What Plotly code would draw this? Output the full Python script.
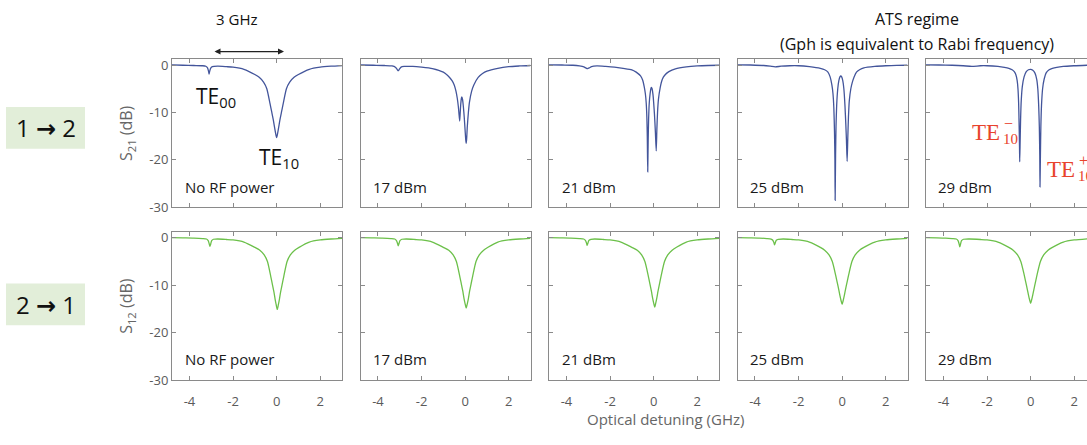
import plotly.graph_objects as go
from plotly.subplots import make_subplots

W, H = 1087, 445

# ---------------- data ----------------
power_labels = ["No RF power", "17 dBm", "21 dBm", "25 dBm", "29 dBm"]
x_tick_vals = [-4, -2, 0, 2]
x_tick_text = ["-4", "-2", "0", "2"]
y_tick_vals = [0, -10, -20, -30]
y_tick_text = ["0", "-10", "-20", "-30"]

# S21 (1 -> 2)
s21_norf_x = [-4.8, -4.3, -3.8, -3.4, -3.25, -3.17, -3.12, -3.1, -3.08, -3.03, -2.95, -2.7, -2.3, -2.0, -1.5, -1.0,
              -0.8, -0.6, -0.45, -0.3, -0.22, -0.15, -0.1, -0.05, 0.0, 0.05, 0.1, 0.15, 0.22, 0.3, 0.45, 0.6, 0.8,
              1.0, 1.5, 2.0, 2.5, 3.0]
s21_norf_y = [0.05, -0.05, -0.1, -0.15, -0.25, -0.6, -1.4, -1.9, -1.5, -0.7, -0.35, -0.25, -0.35, -0.45, -0.9, -2.0,
              -2.6, -3.6, -5.0, -8.2, -10.0, -11.6, -13.0, -14.3, -15.3, -14.3, -13.0, -11.6, -10.0, -8.2, -5.0, -3.6,
              -2.6, -2.0, -0.9, -0.45, -0.25, -0.12]

s21_17_x = [-4.8, -4.2, -3.7, -3.35, -3.2, -3.12, -3.07, -3.02, -2.94, -2.8, -2.4, -2.0, -1.5, -1.0, -0.8, -0.6,
            -0.5, -0.42, -0.36, -0.31, -0.28, -0.25, -0.23, -0.2, -0.17, -0.15, -0.12, -0.08, -0.04, 0.0, 0.03, 0.05,
            0.07, 0.1, 0.15, 0.2, 0.3, 0.4, 0.6, 0.8, 1.0, 1.5, 2.0, 2.5, 3.0]
s21_17_y = [0.0, -0.05, -0.1, -0.2, -0.45, -0.9, -1.2, -0.9, -0.45, -0.3, -0.3, -0.45, -0.75, -1.5, -2.2, -3.3,
            -4.2, -5.5, -7.0, -8.8, -10.3, -11.8, -10.5, -8.2, -7.0, -6.7, -7.2, -8.8, -11.0, -13.8, -15.8, -16.5,
            -15.6, -13.0, -10.0, -7.8, -5.5, -4.2, -2.6, -1.8, -1.3, -0.7, -0.35, -0.2, -0.1]

s21_21_x = [-4.8, -4.2, -3.7, -3.4, -3.2, -3.1, -3.03, -2.95, -2.85, -2.6, -2.2, -1.8, -1.4, -1.0, -0.8, -0.6, -0.5,
            -0.43, -0.38, -0.34, -0.31, -0.29, -0.27, -0.25, -0.23, -0.2, -0.16, -0.12, -0.1, -0.07, -0.03, 0.0, 0.04,
            0.08, 0.12, 0.15, 0.18, 0.22, 0.3, 0.4, 0.5, 0.7, 1.0, 1.5, 2.0, 2.5, 3.0]
s21_21_y = [0.05, 0.0, -0.05, -0.2, -0.4, -0.65, -0.75, -0.6, -0.35, -0.2, -0.3, -0.45, -0.7, -1.0, -1.5, -2.3, -3.2,
            -4.6, -6.0, -8.0, -11.0, -15.0, -22.5, -16.0, -11.5, -8.0, -6.0, -4.9, -4.7, -5.0, -6.2, -7.8, -10.5,
            -14.0, -18.1, -13.5, -10.0, -7.3, -4.8, -3.0, -2.2, -1.4, -0.8, -0.4, -0.2, -0.1, -0.05]

s21_25_x = [-4.8, -4.2, -3.6, -3.3, -3.07, -2.8, -2.4, -2.0, -1.5, -1.0, -0.8, -0.65, -0.55, -0.47, -0.42, -0.38,
            -0.35, -0.33, -0.32, -0.3, -0.28, -0.25, -0.2, -0.15, -0.1, -0.06, -0.02, 0.03, 0.08, 0.13, 0.17, 0.2,
            0.23, 0.26, 0.29, 0.33, 0.4, 0.47, 0.55, 0.66, 0.8, 1.0, 1.5, 2.0, 2.5, 3.0]
s21_25_y = [0.05, 0.0, -0.1, -0.25, -0.4, -0.25, -0.15, -0.15, -0.35, -0.7, -1.0, -1.5, -2.5, -4.2, -6.0, -9.0,
            -14.0, -20.0, -28.5, -19.0, -13.0, -8.5, -5.0, -3.3, -2.5, -2.3, -2.5, -3.3, -5.0, -8.5, -12.5, -16.0,
            -20.3, -15.5, -11.0, -7.5, -5.0, -3.6, -2.5, -1.5, -1.0, -0.6, -0.3, -0.15, -0.08, -0.05]

s21_29_x = [-4.8, -4.2, -3.6, -3.1, -2.7, -2.3, -2.0, -1.5, -1.2, -1.0, -0.85, -0.75, -0.68, -0.62, -0.58, -0.55,
            -0.53, -0.51, -0.5, -0.48, -0.46, -0.43, -0.38, -0.3, -0.2, -0.1, 0.0, 0.1, 0.2, 0.28, 0.33, 0.37, 0.4,
            0.42, 0.43, 0.45, 0.47, 0.5, 0.55, 0.62, 0.72, 0.85, 1.0, 1.5, 2.0, 2.6]
s21_29_y = [0.05, 0.0, -0.05, -0.15, -0.3, -0.15, -0.15, -0.3, -0.5, -0.7, -1.0, -1.4, -2.0, -3.2, -5.0, -8.0,
            -12.0, -17.0, -20.4, -16.0, -11.5, -7.5, -4.5, -2.5, -1.4, -1.0, -0.9, -1.1, -1.7, -3.0, -5.0, -8.5,
            -13.0, -19.0, -25.7, -19.0, -13.0, -8.5, -5.0, -3.0, -1.6, -1.0, -0.7, -0.3, -0.15, -0.05]

# S12 (2 -> 1)
s12_norf_x = [-4.8, -4.3, -3.8, -3.4, -3.22, -3.14, -3.09, -3.06, -3.03, -2.98, -2.9, -2.7, -2.3, -2.0, -1.5, -1.0,
              -0.77, -0.57, -0.42, -0.27, -0.19, -0.12, -0.07, -0.02, 0.03, 0.08, 0.13, 0.18, 0.25, 0.33, 0.48, 0.63,
              0.83, 1.03, 1.5, 2.0, 2.5, 3.0]
s12_norf_y = [0.05, 0.0, -0.05, -0.15, -0.25, -0.6, -1.3, -1.8, -1.4, -0.6, -0.3, -0.25, -0.35, -0.45, -0.9, -2.0,
              -2.6, -3.6, -5.0, -8.1, -9.9, -11.5, -12.9, -14.1, -15.1, -14.1, -12.9, -11.5, -9.9, -8.1, -5.0, -3.6,
              -2.6, -2.0, -0.9, -0.45, -0.25, -0.12]

s12_17_x = [-4.8, -4.3, -3.8, -3.4, -3.23, -3.15, -3.1, -3.07, -3.04, -2.99, -2.9, -2.7, -2.3, -2.0, -1.5, -1.0,
            -0.75, -0.55, -0.4, -0.25, -0.17, -0.1, -0.05, 0.0, 0.05, 0.1, 0.15, 0.2, 0.27, 0.35, 0.5, 0.65, 0.85,
            1.05, 1.5, 2.0, 2.5, 3.0]
s12_17_y = [0.05, 0.0, -0.05, -0.15, -0.25, -0.6, -1.2, -1.7, -1.3, -0.6, -0.3, -0.25, -0.35, -0.45, -0.9, -2.0,
            -2.6, -3.6, -5.0, -8.0, -9.8, -11.4, -12.8, -13.9, -14.8, -13.9, -12.8, -11.4, -9.8, -8.0, -5.0, -3.6,
            -2.6, -2.0, -0.9, -0.45, -0.25, -0.12]

s12_21_x = [-4.8, -4.3, -3.8, -3.4, -3.21, -3.13, -3.08, -3.05, -3.02, -2.97, -2.88, -2.7, -2.3, -2.0, -1.5, -1.0,
            -0.75, -0.55, -0.4, -0.25, -0.17, -0.1, -0.05, 0.0, 0.05, 0.1, 0.15, 0.2, 0.27, 0.35, 0.5, 0.65, 0.85,
            1.05, 1.5, 2.0, 2.5, 3.0]
s12_21_y = [0.05, 0.0, -0.05, -0.15, -0.25, -0.55, -1.1, -1.6, -1.2, -0.55, -0.3, -0.25, -0.35, -0.45, -0.9, -2.0,
            -2.6, -3.6, -5.0, -7.9, -9.7, -11.3, -12.6, -13.7, -14.6, -13.7, -12.6, -11.3, -9.7, -7.9, -5.0, -3.6,
            -2.6, -2.0, -0.9, -0.45, -0.25, -0.12]

s12_25_x = [-4.8, -4.3, -3.8, -3.45, -3.26, -3.18, -3.13, -3.1, -3.07, -3.02, -2.93, -2.7, -2.3, -2.0, -1.5, -1.0,
            -0.8, -0.6, -0.45, -0.3, -0.22, -0.15, -0.1, -0.05, 0.0, 0.05, 0.1, 0.15, 0.22, 0.3, 0.45, 0.6, 0.8, 1.0,
            1.5, 2.0, 2.5, 3.0]
s12_25_y = [0.05, 0.0, -0.05, -0.15, -0.25, -0.5, -1.0, -1.5, -1.1, -0.5, -0.3, -0.25, -0.35, -0.45, -0.9, -2.0,
            -2.6, -3.6, -5.0, -7.8, -9.5, -11.0, -12.2, -13.2, -14.0, -13.2, -12.2, -11.0, -9.5, -7.8, -5.0, -3.6,
            -2.6, -2.0, -0.9, -0.45, -0.25, -0.12]

s12_29_x = [-4.8, -4.3, -3.9, -3.6, -3.41, -3.33, -3.28, -3.25, -3.22, -3.17, -3.08, -2.8, -2.3, -2.0, -1.5, -1.0,
            -0.8, -0.6, -0.45, -0.3, -0.22, -0.15, -0.1, -0.05, 0.0, 0.05, 0.1, 0.15, 0.22, 0.3, 0.45, 0.6, 0.8, 1.0,
            1.5, 2.0, 2.6]
s12_29_y = [0.05, 0.0, -0.05, -0.15, -0.25, -0.6, -1.3, -1.9, -1.4, -0.6, -0.3, -0.25, -0.35, -0.45, -0.9, -2.0,
            -2.6, -3.6, -5.0, -7.7, -9.4, -10.9, -12.0, -13.0, -13.8, -13.0, -12.0, -10.9, -9.4, -7.7, -5.0, -3.6,
            -2.6, -2.0, -0.9, -0.45, -0.2]

s21_curves = [(s21_norf_x, s21_norf_y), (s21_17_x, s21_17_y), (s21_21_x, s21_21_y),
              (s21_25_x, s21_25_y), (s21_29_x, s21_29_y)]
s12_curves = [(s12_norf_x, s12_norf_y), (s12_17_x, s12_17_y), (s12_21_x, s12_21_y),
              (s12_25_x, s12_25_y), (s12_29_x, s12_29_y)]

# ---------------- style ----------------
BLUE = "#43559b"
GREEN = "#6cc04a"
AXC = "#8a8a8a"
TICKC = "#5a5a5a"
FONT = "Open Sans, DejaVu Sans, sans-serif"
SERIF = "Liberation Serif, DejaVu Serif, serif"
RED = "#e8432c"

X_MIN, X_MAX = -4.8, 3.0
Y_MIN, Y_MAX = -30, 1.2
PANEL_W = 170
PANEL_STEP = 188.5
PANEL_X0 = 172
ROW_TOP = [(57, 209.5), (235, 387.5)]


def px(x):
    return x / W


def py(y):
    return 1 - y / H


fig = make_subplots(rows=2, cols=5)

for r, (curves, color) in enumerate([(s21_curves, BLUE), (s12_curves, GREEN)]):
    for c, (xs, ys) in enumerate(curves):
        fig.add_trace(go.Scatter(x=xs, y=ys, mode="lines",
                                 line=dict(color=color, width=1.3, shape="spline", smoothing=0.6),
                                 hoverinfo="skip", showlegend=False), row=r + 1, col=c + 1)

px_per_unit = PANEL_W / (X_MAX - X_MIN)
for r in range(2):
    top, bot = ROW_TOP[r]
    for c in range(5):
        n = r * 5 + c + 1
        left = PANEL_X0 + PANEL_STEP * c
        right = min(left + PANEL_W, W)
        xmax = X_MIN + (right - left) / px_per_unit
        xa = dict(domain=[px(left), px(right)], range=[X_MIN, xmax], tickvals=x_tick_vals,
                  ticktext=x_tick_text, showticklabels=(r == 1), ticklabelstandoff=9,
                  showline=True, linecolor=AXC, linewidth=1, mirror="ticks", ticks="inside", ticklen=4,
                  tickcolor=AXC, showgrid=False, zeroline=False,
                  tickfont=dict(size=13, color=TICKC, family=FONT))
        ya = dict(domain=[py(bot), py(top)], range=[Y_MIN, Y_MAX], tickvals=y_tick_vals,
                  ticktext=y_tick_text, showticklabels=(c == 0),
                  showline=True, linecolor=AXC, linewidth=1, mirror=("ticks" if c < 4 else False),
                  ticks="inside", ticklen=4, tickcolor=AXC, showgrid=False, zeroline=False,
                  tickfont=dict(size=13, color=TICKC, family=FONT))
        if c == 0:
            ya["title"] = dict(text=("S<sub>21</sub> (dB)" if r == 0 else "S<sub>12</sub> (dB)"),
                               font=dict(size=16, color="#666666", family=FONT), standoff=12)
        fig.layout["xaxis" + ("" if n == 1 else str(n))].update(xa)
        fig.layout["yaxis" + ("" if n == 1 else str(n))].update(ya)


def txt(text, x, y, size, color="#111111", family=FONT, xanchor="center", yanchor="middle"):
    return dict(text=text, x=px(x), y=py(y), xref="paper", yref="paper", showarrow=False,
                xanchor=xanchor, yanchor=yanchor, font=dict(size=size, color=color, family=family))


annotations = []
# panel power labels
for r in range(2):
    for c in range(5):
        n = r * 5 + c + 1
        sfx = "" if n == 1 else str(n)
        annotations.append(dict(text=power_labels[c], xref="x" + sfx + " domain", yref="y" + sfx + " domain",
                                x=0.062, y=0.14, xanchor="left", yanchor="middle", showarrow=False,
                                font=dict(size=15, color="#1a1a1a", family=FONT)))

annotations += [
    txt("3 GHz", 237, 15, 15),
    dict(text="", x=px(284), y=py(49), xref="paper", yref="paper", ax=-71, ay=0, showarrow=True,
         arrowhead=2, arrowside="end+start", arrowsize=1, arrowwidth=1.2, arrowcolor="#222222"),
    txt("ATS regime", 917, 15, 16),
    txt("(Gph is equivalent to Rabi frequency)", 917, 41, 16),
    txt("TE<sub>00</sub>", 216, 96, 21),
    txt("TE<sub>10</sub>", 279, 159, 21),
    txt("1 <b>→</b> 2", 45.5, 127.5, 24),
    txt("2 <b>→</b> 1", 45.5, 309.5, 24),
    txt("Optical detuning (GHz)", 665, 428, 15, color="#666666"),
    # red TE10 minus
    txt("TE", 1002, 132, 23, RED, SERIF, xanchor="right"),
    txt("−", 1002, 123, 16, RED, SERIF, xanchor="left"),
    txt("10", 1001, 139, 15, RED, SERIF, xanchor="left"),
    # red TE10 plus
    txt("TE", 1077, 170, 23, RED, SERIF, xanchor="right"),
    txt("+", 1077, 161, 16, RED, SERIF, xanchor="left"),
    txt("10", 1076, 177, 15, RED, SERIF, xanchor="left"),
]

shapes = [
    dict(type="rect", xref="paper", yref="paper", x0=px(6), x1=px(85), y0=py(149), y1=py(106),
         fillcolor="#e2eed9", line=dict(width=0), layer="below"),
    dict(type="rect", xref="paper", yref="paper", x0=px(6), x1=px(85), y0=py(331), y1=py(288),
         fillcolor="#e2eed9", line=dict(width=0), layer="below"),
]

fig.update_layout(width=W, height=H, margin=dict(l=0, r=0, t=0, b=0), paper_bgcolor="white",
                  plot_bgcolor="white", annotations=annotations, shapes=shapes,
                  font=dict(family=FONT), showlegend=False)

fig.write_html("out.html")
